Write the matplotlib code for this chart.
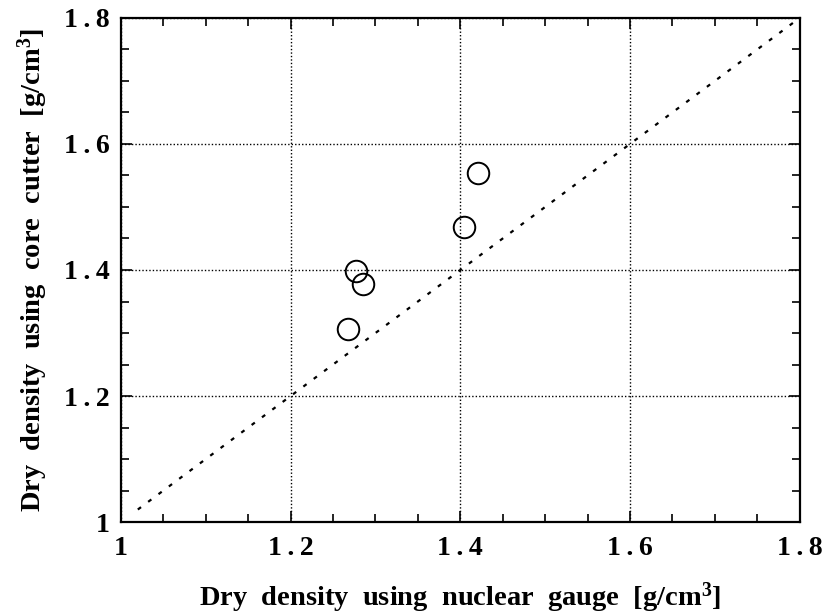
import matplotlib
matplotlib.use("Agg")
import matplotlib.pyplot as plt
from matplotlib.ticker import MultipleLocator, FixedLocator

nuclear_gauge = [1.268, 1.277, 1.285, 1.404, 1.421]
core_cutter = [1.307, 1.399, 1.378, 1.468, 1.554]
tick_values = [1.0, 1.2, 1.4, 1.6, 1.8]
tick_labels = ["1", "1\u2009.\u20092", "1\u2009.\u20094", "1\u2009.\u20096", "1\u2009.\u20098"]
line_of_equality = [1.02, 1.8]

plt.rcParams['font.family'] = ['Liberation Serif', 'DejaVu Serif']
plt.rcParams['mathtext.fontset'] = 'custom'
plt.rcParams['mathtext.rm'] = 'Liberation Serif:bold'
plt.rcParams['mathtext.bf'] = 'Liberation Serif:bold'
plt.rcParams['mathtext.it'] = 'Liberation Serif:bold'

fig = plt.figure(figsize=(8.22, 6.15), dpi=100)
ax = fig.add_axes([0.147, 0.151, 0.826, 0.820])

ax.plot(line_of_equality, line_of_equality, color='black', lw=1.6,
        linestyle=(0, (1.8, 4.0)), zorder=2)
ax.plot(nuclear_gauge, core_cutter, linestyle='none', marker='o', ms=15.5,
        mfc='none', mec='black', mew=1.4, zorder=3)

ax.set_xlim(1.0, 1.8)
ax.set_ylim(1.0, 1.8)
ax.xaxis.set_major_locator(FixedLocator(tick_values))
ax.yaxis.set_major_locator(FixedLocator(tick_values))
ax.set_xticklabels(tick_labels)
ax.set_yticklabels(tick_labels)
ax.xaxis.set_minor_locator(MultipleLocator(0.05))
ax.yaxis.set_minor_locator(MultipleLocator(0.05))

ax.grid(True, which='major', color='black', linestyle=(0, (1, 1.5)), lw=1.0)
ax.tick_params(which='both', direction='in', top=True, right=True, width=1.2)
ax.tick_params(which='major', length=8, labelsize=20, pad=10)
ax.tick_params(axis='y', which='major', pad=8)
ax.tick_params(which='minor', length=6)
for lab in ax.get_xticklabels() + ax.get_yticklabels():
    lab.set_fontweight('bold')
for s in ax.spines.values():
    s.set_linewidth(1.6)

ax.set_xlabel("Dry  density  using  nuclear  gauge  [g/cm$^{3}$]",
              fontsize=20.5, fontweight='bold', labelpad=14)
ax.set_ylabel("Dry  density  using  core  cutter  [g/cm$^{3}$]",
              fontsize=20.5, fontweight='bold', labelpad=10)

fig.savefig("out.png", dpi=100)
